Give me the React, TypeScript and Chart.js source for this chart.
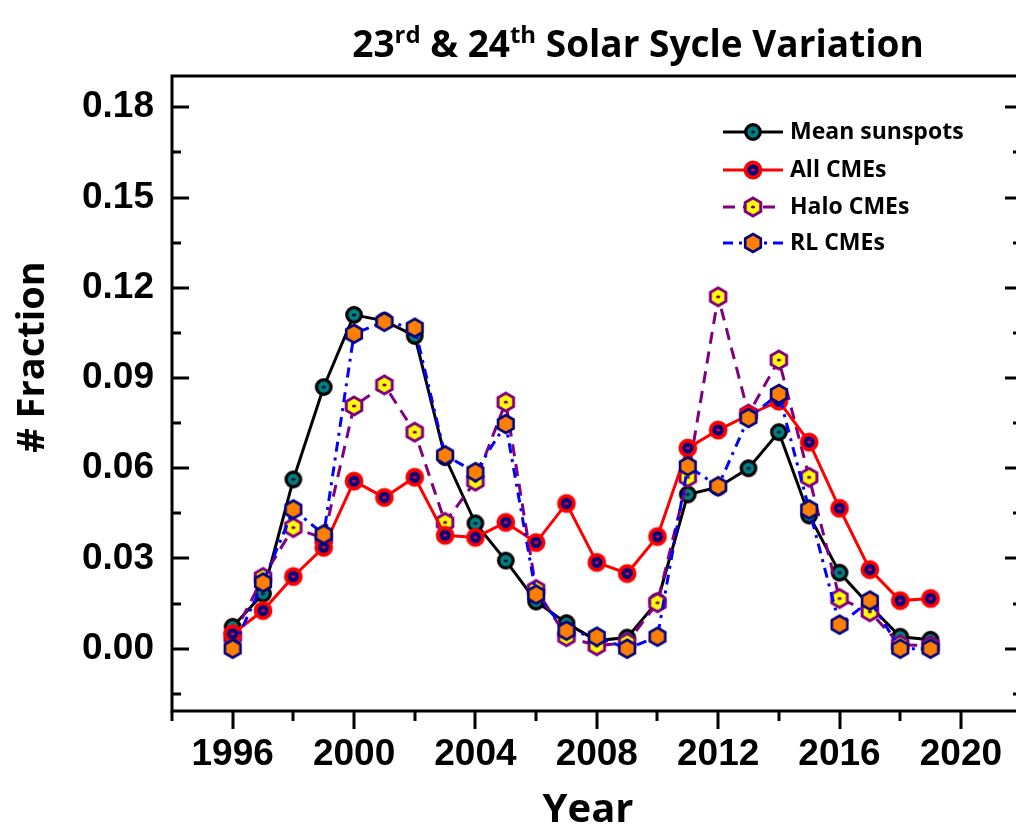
import React, { useEffect, useRef } from "react";
import { Chart, registerables } from "chart.js";
Chart.register(...registerables);

const years = [1996, 1997, 1998, 1999, 2000, 2001, 2002, 2003, 2004, 2005, 2006, 2007, 2008, 2009, 2010, 2011, 2012, 2013, 2014, 2015, 2016, 2017, 2018, 2019];
const meanSunspots = [0.0073, 0.0183, 0.0563, 0.087, 0.111, 0.109, 0.104, 0.0637, 0.0417, 0.0293, 0.0157, 0.0085, 0.0027, 0.0037, 0.0157, 0.0513, 0.0537, 0.06, 0.072, 0.0443, 0.0253, 0.0143, 0.004, 0.003];
const allCMEs = [0.005, 0.0127, 0.024, 0.0337, 0.0557, 0.0503, 0.057, 0.0377, 0.037, 0.042, 0.0353, 0.0483, 0.0287, 0.025, 0.0373, 0.0667, 0.0727, 0.0777, 0.0823, 0.0687, 0.0467, 0.0263, 0.016, 0.0167];
const haloCMEs = [0.004, 0.0237, 0.0403, 0.0367, 0.0807, 0.0877, 0.072, 0.042, 0.0557, 0.082, 0.0197, 0.004, 0.001, 0.002, 0.0153, 0.057, 0.117, 0.078, 0.096, 0.057, 0.0167, 0.0123, 0.0013, 0.001];
const rlCMEs = [0.0, 0.022, 0.0463, 0.038, 0.1047, 0.1087, 0.1067, 0.0643, 0.0587, 0.0747, 0.018, 0.006, 0.004, 0.0, 0.004, 0.0607, 0.054, 0.0767, 0.0847, 0.0463, 0.008, 0.016, 0.0, 0.0];

const seriesNames = ["Mean sunspots", "All CMEs", "Halo CMEs", "RL CMEs"];
const xTicks = [1994, 1996, 1998, 2000, 2002, 2004, 2006, 2008, 2010, 2012, 2014, 2016, 2018, 2020];
const xLabelled = [1996, 2000, 2004, 2008, 2012, 2016, 2020];
const yTicks = [-0.015, 0, 0.015, 0.03, 0.045, 0.06, 0.075, 0.09, 0.105, 0.12, 0.135, 0.15, 0.165, 0.18];
const yLabelled = [0, 0.03, 0.06, 0.09, 0.12, 0.15, 0.18];
const titleParts: [string, boolean][] = [["23", false], ["rd", true], [" & 24", false], ["th", true], [" Solar Sycle Variation", false]];
const xTitle = "Year";
const yTitle = "# Fraction";

const isLabelledY = (v: number) => yLabelled.some((l) => Math.abs(l - v) < 1e-9);
const TXT = '"Open Sans", "Noto Sans", sans-serif';
const NUM = '"Liberation Sans", Arial, sans-serif';

function hexPath(g: CanvasRenderingContext2D, cx: number, cy: number, r: number) {
  g.beginPath();
  for (let i = 0; i < 6; i++) {
    const a = ((-90 + 60 * i) * Math.PI) / 180;
    const x = cx + r * Math.cos(a);
    const y = cy + r * Math.sin(a);
    if (i === 0) g.moveTo(x, y);
    else g.lineTo(x, y);
  }
  g.closePath();
}

function makeMarker(kind: string): HTMLCanvasElement {
  const c = document.createElement("canvas");
  c.width = 26;
  c.height = 26;
  const g = c.getContext("2d")!;
  const cx = 13, cy = 13;
  if (kind === "sun") {
    g.beginPath();
    g.arc(cx, cy, 7.3, 0, Math.PI * 2);
    g.fillStyle = "#008080";
    g.fill();
    g.lineWidth = 3.2;
    g.strokeStyle = "#000000";
    g.stroke();
    g.beginPath();
    g.ellipse(cx, cy, 2.2, 1.5, 0, 0, Math.PI * 2);
    g.fillStyle = "#10103a";
    g.fill();
  } else if (kind === "all") {
    g.beginPath();
    g.arc(cx, cy, 7.5, 0, Math.PI * 2);
    g.fillStyle = "#000080";
    g.fill();
    g.lineWidth = 3.8;
    g.strokeStyle = "#FF0000";
    g.stroke();
    g.beginPath();
    g.ellipse(cx, cy, 2.2, 1.5, 0, 0, Math.PI * 2);
    g.fillStyle = "#d0103a";
    g.fill();
  } else if (kind === "halo") {
    hexPath(g, cx, cy, 9);
    g.fillStyle = "#FFFF00";
    g.fill();
    g.lineWidth = 3;
    g.strokeStyle = "#800080";
    g.stroke();
    g.beginPath();
    g.ellipse(cx, cy, 2.2, 1.5, 0, 0, Math.PI * 2);
    g.fillStyle = "#800080";
    g.fill();
  } else {
    hexPath(g, cx, cy, 9);
    g.fillStyle = "#FF8000";
    g.fill();
    g.lineWidth = 2.6;
    g.strokeStyle = "#000080";
    g.stroke();
  }
  return c;
}

export default function App() {
  const ref = useRef<HTMLCanvasElement>(null);
  useEffect(() => {
    const canvas = ref.current!;
    const markers = [makeMarker("sun"), makeMarker("all"), makeMarker("halo"), makeMarker("rl")];
    const colors = ["#000000", "#FF0000", "#800080", "#0000FF"];
    const dashes: number[][] = [[], [], [12, 8], [10, 6, 3, 6]];
    const seriesData = [meanSunspots, allCMEs, haloCMEs, rlCMEs];
    const orders = [3, 1, 2, 0];

    const decor = {
      id: "decor",
      afterDraw(chart: any) {
        const ctx: CanvasRenderingContext2D = chart.ctx;
        const { left: L, right: R, top: T, bottom: B } = chart.chartArea;
        const xs = chart.scales.x;
        const ys = chart.scales.y;
        ctx.save();
        ctx.strokeStyle = "#000";
        ctx.lineWidth = 3;
        ctx.lineCap = "butt";
        // axes
        ctx.beginPath();
        ctx.moveTo(L, T - 1.5);
        ctx.lineTo(L, B + 1.5);
        ctx.moveTo(L - 1.5, B);
        ctx.lineTo(R + 8, B);
        ctx.moveTo(L - 1.5, T);
        ctx.lineTo(R + 8, T);
        ctx.stroke();
        const RA = Math.round(xs.getPixelForValue(2022));
        ctx.beginPath();
        for (const v of yTicks) {
          const py = Math.round(ys.getPixelForValue(v));
          const len = isLabelledY(v) ? 17 : 9;
          ctx.moveTo(L, py);
          ctx.lineTo(L + len, py);
          ctx.moveTo(RA, py);
          ctx.lineTo(RA - len, py);
        }
        for (const v of xTicks) {
          const px = Math.round(xs.getPixelForValue(v));
          const len = xLabelled.includes(v) ? 18 : 10;
          ctx.moveTo(px, B);
          ctx.lineTo(px, B + len);
        }
        ctx.stroke();

        // title with superscripts
        const mainSize = 37, supSize = 24;
        let total = 0;
        for (const [t, s] of titleParts) {
          ctx.font = `bold ${s ? supSize : mainSize}px ${TXT}`;
          total += ctx.measureText(t).width;
        }
        let tx = 638 - total / 2;
        ctx.fillStyle = "#000";
        ctx.textAlign = "left";
        ctx.textBaseline = "alphabetic";
        for (const [t, s] of titleParts) {
          ctx.font = `bold ${s ? supSize : mainSize}px ${TXT}`;
          ctx.fillText(t, tx, s ? 43 : 57);
          tx += ctx.measureText(t).width;
        }

        // axis titles
        ctx.font = `bold 40px ${TXT}`;
        ctx.textAlign = "center";
        ctx.textBaseline = "alphabetic";
        ctx.fillText(xTitle, 588, 822);
        ctx.save();
        ctx.translate(44, 357);
        ctx.rotate(-Math.PI / 2);
        ctx.font = `bold 38px ${TXT}`;
        ctx.fillText(yTitle, 0, 0);
        ctx.restore();

        // legend
        const rowsY = [132, 170, 207, 243];
        for (let i = 0; i < 4; i++) {
          const y = rowsY[i];
          ctx.beginPath();
          ctx.setLineDash(dashes[i]);
          ctx.strokeStyle = colors[i];
          ctx.lineWidth = 3;
          ctx.moveTo(723, y);
          ctx.lineTo(783, y);
          ctx.stroke();
          ctx.setLineDash([]);
          const m = markers[i];
          ctx.drawImage(m, 753 - m.width / 2, y - m.height / 2);
          ctx.fillStyle = "#000";
          ctx.font = `bold 23px ${TXT}`;
          ctx.textAlign = "left";
          ctx.textBaseline = "middle";
          ctx.fillText(seriesNames[i], 790, y);
        }
        ctx.restore();
      },
    };

    const chart = new Chart(canvas, {
      type: "line",
      data: {
        datasets: seriesData.map((d, i) => ({
          label: seriesNames[i],
          data: years.map((yr, k) => ({ x: yr, y: d[k] })),
          borderColor: colors[i],
          backgroundColor: colors[i],
          borderWidth: 3,
          borderDash: dashes[i],
          pointStyle: markers[i] as any,
          pointRadius: 0.5,
          pointBorderWidth: 0,
          pointHoverRadius: 0.5,
          tension: 0,
          order: orders[i],
          clip: false as any,
        })),
      },
      options: {
        animation: false,
        responsive: false,
        maintainAspectRatio: false,
        layout: { padding: { top: 76, right: 0, left: 0, bottom: 0 } },
        plugins: { legend: { display: false }, tooltip: { enabled: false }, title: { display: false } },
        scales: {
          x: {
            type: "linear",
            min: 1994,
            max: 2021.8,
            grid: { display: false, drawTicks: false, tickLength: 0 },
            border: { display: false },
            afterBuildTicks: (s: any) => {
              s.ticks = xTicks.map((v) => ({ value: v }));
            },
            afterFit: (s: any) => {
              s.height = 118;
              s.paddingLeft = 0;
              s.paddingRight = 0;
            },
            ticks: {
              autoSkip: false,
              maxRotation: 0,
              padding: 22,
              color: "#000",
              font: { family: NUM, size: 37, weight: "bold" },
              callback: (v: any) => (xLabelled.includes(Number(v)) ? String(v) : ""),
            },
          },
          y: {
            type: "linear",
            min: -0.0207,
            max: 0.1904,
            grid: { display: false, drawTicks: false, tickLength: 0 },
            border: { display: false },
            afterBuildTicks: (s: any) => {
              s.ticks = yTicks.map((v) => ({ value: v }));
            },
            afterFit: (s: any) => {
              s.width = 172;
              s.paddingTop = 0;
              s.paddingBottom = 0;
            },
            ticks: {
              autoSkip: false,
              padding: 18,
              color: "#000",
              font: { family: NUM, size: 37, weight: "bold" },
              callback: (v: any) => (isLabelledY(Number(v)) ? Number(v).toFixed(2) : ""),
            },
          },
        },
      },
      plugins: [decor],
    } as any);
    return () => chart.destroy();
  }, []);

  return (
    <div style={{ position: "fixed", left: 0, top: 0, width: 1016, height: 829, background: "#fff" }}>
      <canvas ref={ref} width={1016} height={829} style={{ display: "block", width: 1016, height: 829 }} />
    </div>
  );
}
